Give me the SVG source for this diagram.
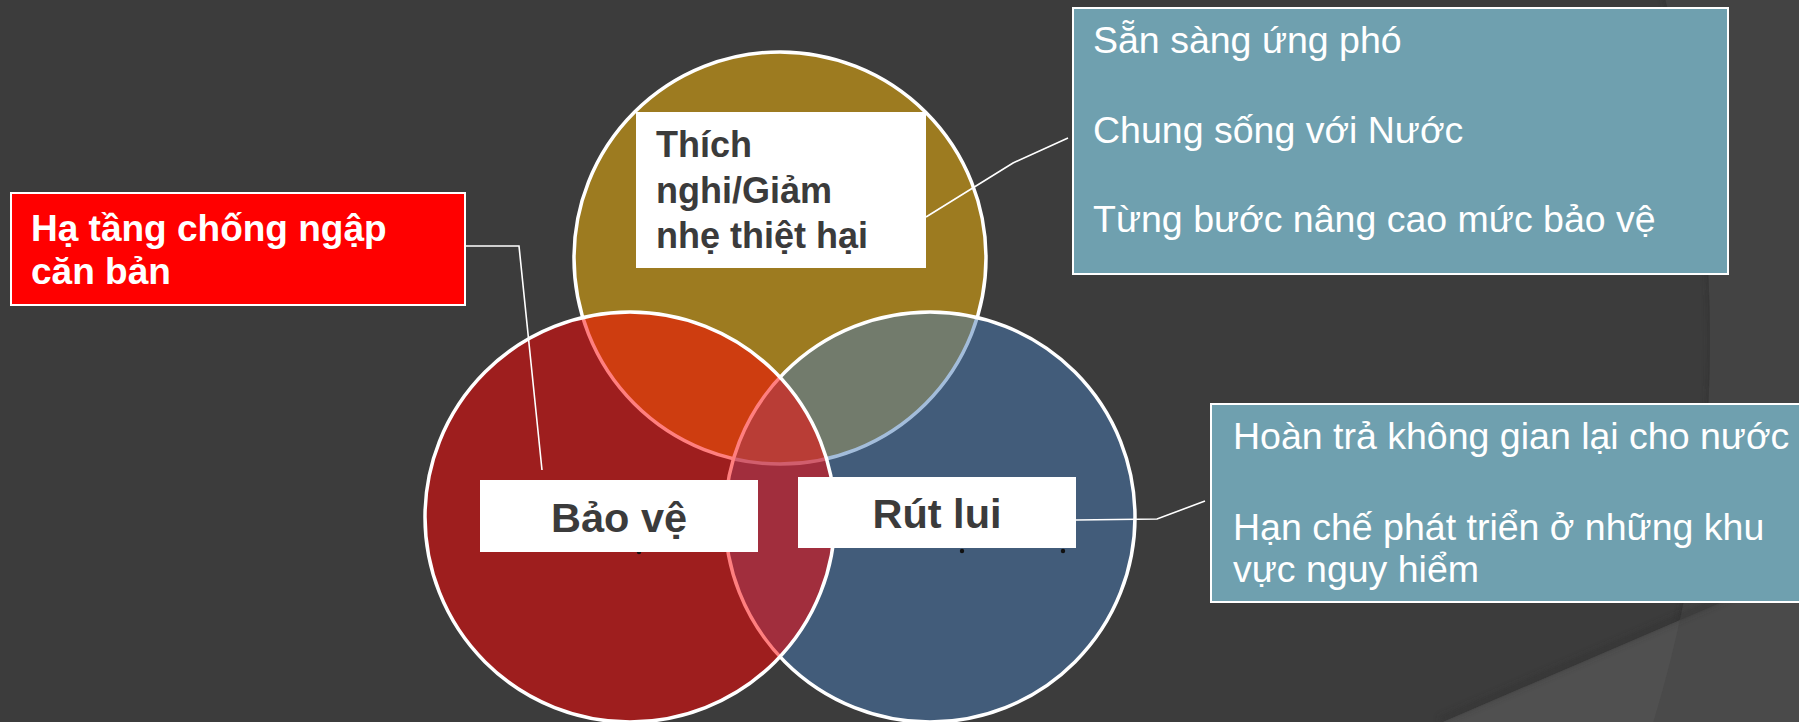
<svg xmlns="http://www.w3.org/2000/svg" width="1799" height="722" viewBox="0 0 1799 722">
  <defs>
    <style>
      .lbl { font-family: "Liberation Sans", Arial, sans-serif; font-weight: bold; fill: #3B3B3B; }
      .wlbl { font-family: "Liberation Sans", Arial, sans-serif; font-weight: bold; fill: #FFFFFF; }
      .note { font-family: "Liberation Sans", Arial, sans-serif; fill: #FFFFFF; font-size: 37.5px; }
      .box { fill: #6FA0AF; stroke: #FFFFFF; stroke-width: 2; }
      .wbox { fill: #FFFFFF; }
      .ring { stroke: #FFFFFF; stroke-width: 3.5; }
      .conn { fill: none; stroke: #FFFFFF; stroke-width: 1.6; }
    </style>
    <clipPath id="bigc"><circle cx="393" cy="340" r="1317"/></clipPath>
    <filter id="soft" x="-10%" y="-10%" width="120%" height="120%"><feGaussianBlur stdDeviation="3"/></filter>
  </defs>

  <g id="background">
    <rect x="0" y="0" width="1799" height="722" fill="#434343"/>
    <circle cx="393" cy="340" r="1317" fill="#3C3C3C"/>
    <circle cx="393" cy="340" r="1319" fill="none" stroke="#2E2E2E" stroke-width="6" opacity="0.6" filter="url(#soft)" clip-path="url(#bigc)"/>
    <polygon points="1443,722 1799,569 1799,722" fill="#4A4A4A"/>
    <polygon points="1443,722 1799,569 1799,722" fill="#505050" clip-path="url(#bigc)"/>
    <line x1="1440" y1="720" x2="1799" y2="566" stroke="#2E2E2E" stroke-width="5" opacity="0.5" filter="url(#soft)"/>
  </g>

  <g id="venn-top">
    <circle class="ring" cx="780" cy="258" r="206" fill="#9D7B20"/>
  </g>
  <g id="venn-right">
    <circle class="ring" cx="930" cy="517" r="205" fill="#487CB8" fill-opacity="0.5"/>
  </g>
  <g id="venn-left">
    <circle class="ring" cx="630" cy="517" r="205" fill="#FF0000" fill-opacity="0.5"/>
  </g>

  <g id="connectors">
    <polyline class="conn" points="465,246 519,246 542,470"/>
    <polyline class="conn" points="926,217 1013,163 1068,138"/>
    <polyline class="conn" points="1076,520 1157,519 1205,501"/>
  </g>

  <g id="stray-marks" fill="#111111">
    <circle cx="639" cy="552" r="2.2"/>
    <circle cx="962" cy="551" r="2.2"/>
    <circle cx="1063" cy="551" r="2.2"/>
  </g>

  <g id="label-adapt">
    <rect class="wbox" x="636" y="112" width="290" height="156"/>
    <text class="lbl" font-size="36" x="656" y="157">Thích</text>
    <text class="lbl" font-size="36" x="656" y="203">nghi/Giảm</text>
    <text class="lbl" font-size="36" x="656" y="248">nhẹ thiệt hại</text>
  </g>

  <g id="label-protect">
    <rect class="wbox" x="480" y="480" width="278" height="72"/>
    <text class="lbl" font-size="41.5" x="619" y="532" text-anchor="middle">Bảo vệ</text>
  </g>

  <g id="label-retreat">
    <rect class="wbox" x="798" y="477" width="278" height="71"/>
    <text class="lbl" font-size="41.5" x="937" y="528" text-anchor="middle">Rút lui</text>
  </g>

  <g id="note-infra">
    <rect x="11" y="193" width="454" height="112" fill="#FF0000" stroke="#FFFFFF" stroke-width="2"/>
    <text class="wlbl" font-size="37" x="31" y="241">Hạ tầng chống ngập</text>
    <text class="wlbl" font-size="37" x="31" y="284">căn bản</text>
  </g>

  <g id="note-adapt">
    <rect class="box" x="1073" y="8" width="655" height="266"/>
    <text class="note" x="1093" y="53">Sẵn sàng ứng phó</text>
    <text class="note" x="1093" y="143">Chung sống với Nước</text>
    <text class="note" x="1093" y="232">Từng bước nâng cao mức bảo vệ</text>
  </g>

  <g id="note-retreat">
    <rect class="box" x="1211" y="404" width="620" height="198"/>
    <text class="note" x="1233" y="449">Hoàn trả không gian lại cho nước</text>
    <text class="note" x="1233" y="540">Hạn chế phát triển ở những khu</text>
    <text class="note" x="1233" y="582">vực nguy hiểm</text>
  </g>
</svg>
